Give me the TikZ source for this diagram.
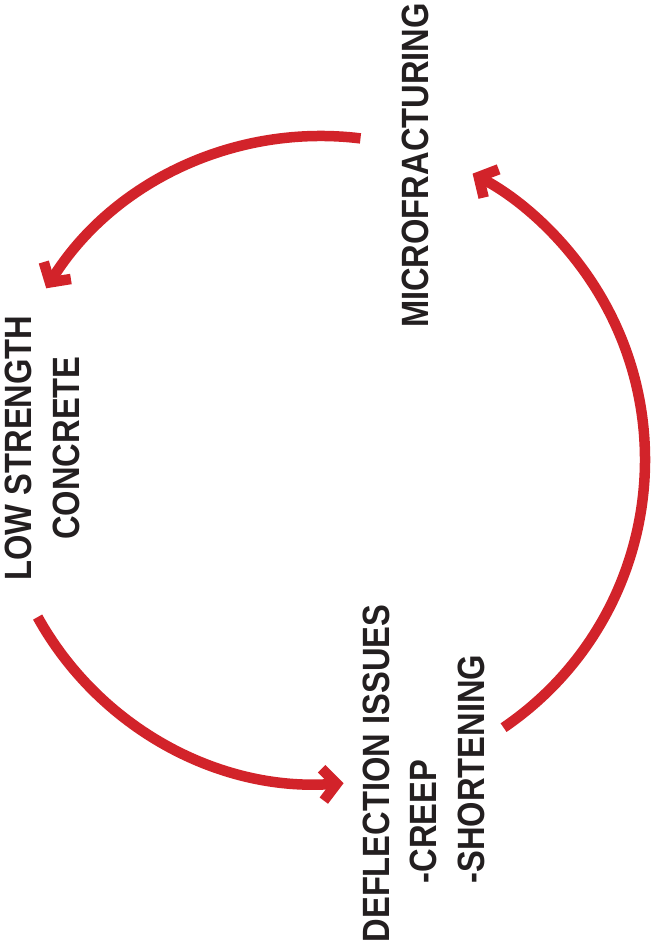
\documentclass[tikz,border=0pt]{standalone}
\usepackage{fontspec}
\newfontfamily\labelfont{Liberation Sans}[FakeStretch=0.86]
\usetikzlibrary{arrows.meta}
\definecolor{cyclered}{RGB}{210,35,42}
\definecolor{inkblack}{RGB}{35,31,32}
\begin{document}
\begin{tikzpicture}[x=1pt,y=1pt,
  flow/.style={draw=cyclered, line width=10.5pt, line cap=butt,
    -{Straight Barb[length=14pt, width=32pt, sharp]}},
  cyclelabel/.style={text=inkblack, rotate=90, inner sep=0pt,
    font=\labelfont\bfseries\fontsize{38}{47.5}\selectfont}]
\useasboundingbox (0,0) rectangle (653,945);
\coordinate (c) at (321,485);

% labels, set vertically
\node[cyclelabel, align=center] (low) at (42.5,497)
  {LOW STRENGTH\\CONCRETE};
\node[cyclelabel, align=left] (defl) at (423.5,171.5)
  {DEFLECTION ISSUES\\\hspace*{59pt}-CREEP\\\hspace*{59pt}-SHORTENING};
\node[cyclelabel] (micro) at (415,779.5) {MICROFRACTURING};

% the cycle of arrows
\draw[flow] ([shift={(83:324)}]c) arc[start angle=83, end angle=148, radius=324];
\draw[flow] ([shift={(209:324)}]c) arc[start angle=209, end angle=274, radius=324];
\draw[flow] ([shift={(-55.7:324)}]c) arc[start angle=-55.7, end angle=62.1, radius=324];
\end{tikzpicture}
\end{document}
